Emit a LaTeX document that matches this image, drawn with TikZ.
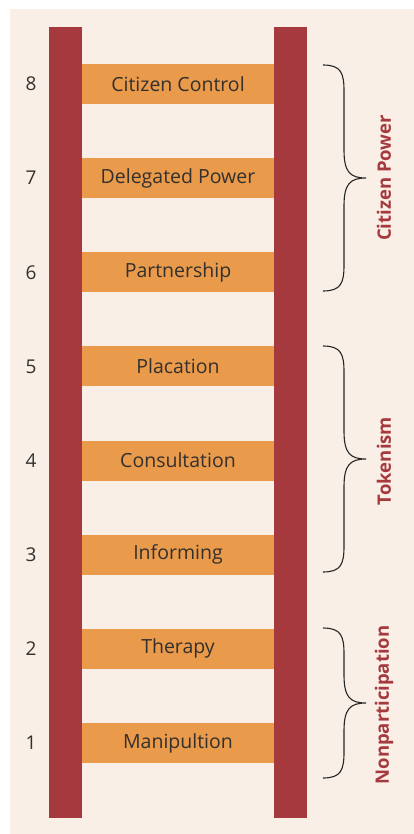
\documentclass[tikz,border=0pt]{standalone}
\usepackage{fontspec}
\setmainfont{Open Sans}
\definecolor{paper}{HTML}{F9EFE6}
\definecolor{rail}{HTML}{A6393E}
\definecolor{rung}{HTML}{E99A4A}
\definecolor{ink}{HTML}{33302E}
\definecolor{grouptext}{HTML}{A6393E}
\tikzset{
  railbar/.style={fill=rail, draw=none},
  rungbar/.style={fill=rung, draw=none, minimum width=192pt, minimum height=40pt, inner sep=0pt,
    text=ink, font=\fontsize{19.5}{22}\selectfont},
  levelnum/.style={text=ink, font=\fontsize{19}{22}\selectfont},
  bracepath/.style={draw=black!85, line width=1.1pt},
  grouplabel/.style={text=grouptext, font=\bfseries\fontsize{18.5}{20}\selectfont, rotate=90}
}
\begin{document}
\begin{tikzpicture}[x=1pt,y=-1pt]
  \useasboundingbox (0,0) rectangle (414,834);
  % background panel
  \fill[paper] (10,9) rectangle (414,834);
  % ladder rails
  \path[railbar] (49,27) rectangle (82,818);
  \path[railbar] (274,27) rectangle (307,818);
  % rungs with level numbers
  \foreach \n/\lab [evaluate=\n as \yy using {84+(8-\n)*94.14}] in
     {8/Citizen Control,7/Delegated Power,6/Partnership,5/Placation,
      4/Consultation,3/Informing,2/Therapy,1/Manipultion}{
    \node[rungbar] (rung\n) at (178,\yy) {\lab};
    \node[levelnum] (num\n) at (31,\yy) {\n};
  }
  % braces grouping the rungs: top, tip, bottom
  \foreach \t/\m/\b/\nm in {65/178/291/cp, 346/459/572/tk, 628/703/778/np}{
    \coordinate (\nm top) at (323,\t);
    \coordinate (\nm tip) at (366,\m);
    \coordinate (\nm bot) at (323,\b);
    \draw[bracepath] (\nm top) .. controls (341,\t) and (344,\t+8) .. (344,\t+26)
      -- (344,\m-28) .. controls (344,\m-6) and (350,\m) .. (\nm tip)
      .. controls (350,\m) and (344,\m+6) .. (344,\m+28)
      -- (344,\b-26) .. controls (344,\b-8) and (341,\b) .. (\nm bot);
  }
  \node[grouplabel] (cpl) at (384,178) {Citizen Power};
  \node[grouplabel] (tkl) at (384,461) {Tokenism};
  \node[grouplabel] (npl) at (384,705) {Nonparticipation};
\end{tikzpicture}
\end{document}
